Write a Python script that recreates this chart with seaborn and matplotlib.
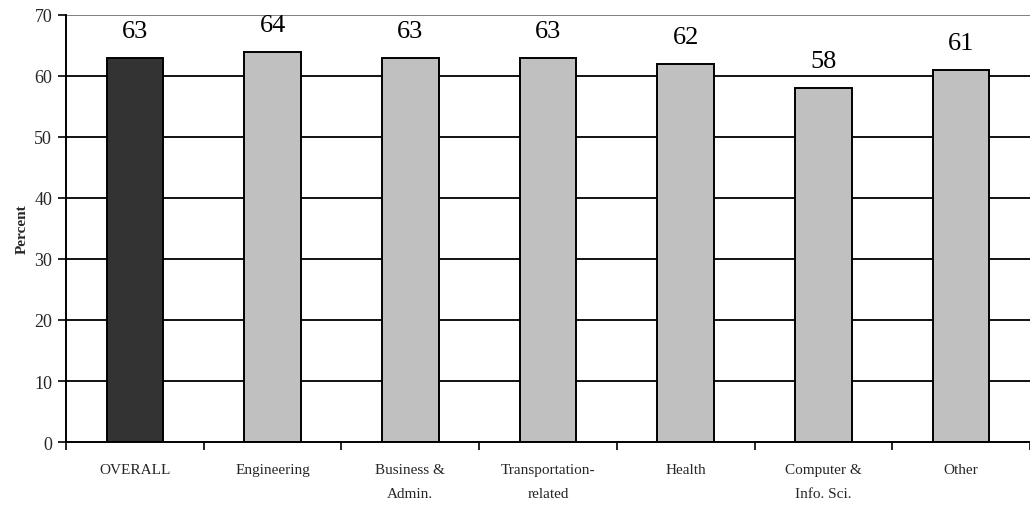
import matplotlib
matplotlib.use("Agg")
import matplotlib.pyplot as plt
import seaborn as sns
import pandas as pd
import numpy as np
from matplotlib.ticker import FixedLocator

# Share of respondents by field
categories = ["OVERALL", "Engineering", "Business &\nAdmin.", "Transportation-\nrelated",
              "Health", "Computer &\nInfo. Sci.", "Other"]
values = [63, 64, 63, 63, 62, 58, 61]
bar_colors = ["#333333", "#c0c0c0", "#c0c0c0", "#c0c0c0", "#c0c0c0", "#c0c0c0", "#c0c0c0"]
y_ticks = [0, 10, 20, 30, 40, 50, 60, 70]

sns.set_theme(style="white")
plt.rcParams["font.family"] = ["Liberation Serif", "DejaVu Serif"]

df = pd.DataFrame({"category": categories, "value": values})

fig = plt.figure(figsize=(10.30, 5.06), dpi=100)
ax = fig.add_axes([0.0641, 0.1245, 0.9359, 0.8439])

# gridlines behind bars
for t in y_ticks[1:-1]:
    ax.axhline(t, color="black", lw=1.3, zorder=0)
ax.axhline(70, color="#808080", lw=1.4, zorder=0)

sns.barplot(data=df, x="category", y="value", hue="category",
            palette=bar_colors, legend=False, width=0.41,
            edgecolor="black", linewidth=1.4, ax=ax, zorder=2)

for i, v in enumerate(values):
    ax.text(i, v + 2.6, f"{v}", ha="center", va="bottom", fontsize=19, color="black")

ax.set_ylim(0, 70)
ax.set_xlim(-0.5, len(categories) - 0.5)
ax.set_yticks(y_ticks)
ax.tick_params(axis="y", which="major", direction="out", length=6, width=1.2,
               color="black", labelsize=13, pad=4, left=True)
ax.tick_params(axis="x", which="major", length=0, labelsize=11, pad=15)
ax.xaxis.set_minor_locator(FixedLocator(np.arange(-0.5, len(categories), 1.0)))
ax.tick_params(axis="x", which="minor", direction="out", length=6, width=1.2,
               color="black", bottom=True)
for lbl in ax.get_xticklabels():
    lbl.set_linespacing(2.15)

for s in ["top", "right"]:
    ax.spines[s].set_visible(False)
for s in ["left", "bottom"]:
    ax.spines[s].set_visible(True)
    ax.spines[s].set_color("black")
    ax.spines[s].set_linewidth(1.4)

ax.set_xlabel("")
ax.set_ylabel("Percent", fontsize=11, fontweight="bold", labelpad=4)

fig.savefig("out.png", dpi=100)
